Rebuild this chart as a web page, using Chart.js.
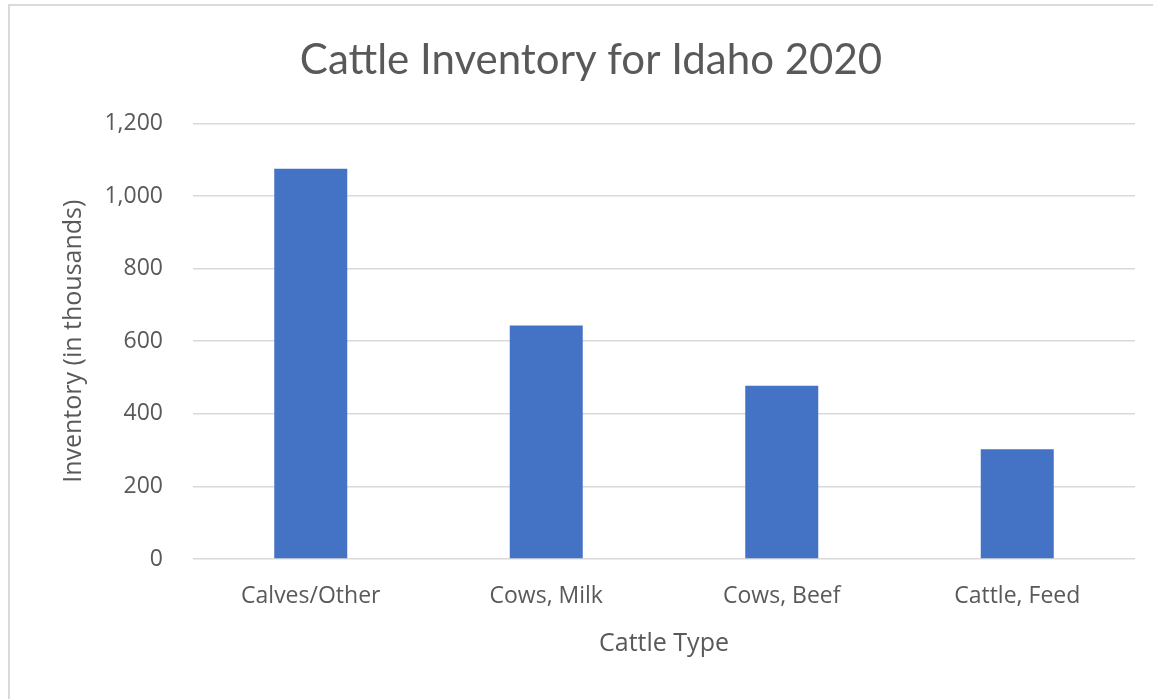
<!DOCTYPE html>
<html>
<head>
<meta charset="utf-8">
<script src="https://cdn.jsdelivr.net/npm/chart.js@4"></script>
<style>
  html, body { margin: 0; padding: 0; background: #fff; }
  #wrap { position: relative; width: 1153px; height: 699px; }
  #frame { position: absolute; left: 8px; top: 4px; right: 0; bottom: 0;
           border-top: 2px solid #dadada; border-left: 2px solid #dadada; }
  canvas { position: absolute; left: 0; top: 0; }
</style>
</head>
<body>
<div id="wrap">
  <div id="frame"></div>
  <canvas id="cattleChart" width="1153" height="699"></canvas>
</div>
<script>
const tipos = ["Calves/Other", "Cows, Milk", "Cows, Beef", "Cattle, Feed"];
const inventario = [1075, 643, 477, 302];  // milhares de cabeças
const yTicks = [0, 200, 400, 600, 800, 1000, 1200];

const cinza = '#595959';
const fonteTitulo = 'Lato, "Open Sans", sans-serif';
const fonte = '"Open Sans", Lato, sans-serif';

const ctx = document.getElementById('cattleChart').getContext('2d');
const cattleChart = new Chart(ctx, {
    type: 'bar',
    data: {
        labels: tipos,
        datasets: [
            {
                label: 'Inventory',
                data: inventario,
                backgroundColor: '#4472c4',
                categoryPercentage: 0.62,
                barPercentage: 0.5
            }
        ]
    },
    options: {
        responsive: false,
        animation: false,
        layout: {
            padding: { top: 35, left: 47, right: 18, bottom: 40 }
        },
        scales: {
            x: {
                grid: { display: false },
                border: { display: false },
                ticks: {
                    color: cinza,
                    font: { family: fonte, size: 23 },
                    padding: 16
                },
                title: {
                    display: true,
                    text: 'Cattle Type',
                    color: cinza,
                    font: { family: fonte, size: 25 },
                    padding: 0
                },
                afterFit: (scale) => { scale.height = 100; }
            },
            y: {
                min: yTicks[0],
                max: yTicks[yTicks.length - 1],
                afterBuildTicks: (scale) => {
                    scale.ticks = yTicks.map(v => ({ value: v }));
                },
                grid: {
                    color: '#d9d9d9',
                    lineWidth: 1.5,
                    drawTicks: false
                },
                border: { display: false },
                ticks: {
                    color: cinza,
                    font: { family: fonte, size: 23 },
                    padding: 30,
                    callback: (v) => v.toLocaleString('en-US')
                },
                title: {
                    display: true,
                    text: 'Inventory (in thousands)',
                    color: cinza,
                    font: { family: fonte, size: 25 },
                    padding: { top: 12, bottom: 0 }
                },
                afterFit: (scale) => { scale.width = 146; }
            }
        },
        plugins: {
            legend: { display: false },
            tooltip: { enabled: false },
            title: {
                display: true,
                text: 'Cattle Inventory for Idaho 2020',
                color: cinza,
                font: { family: fonteTitulo, size: 42, weight: 'normal' },
                padding: { top: 0, bottom: 38 }
            }
        }
    }
});
</script>
</body>
</html>
